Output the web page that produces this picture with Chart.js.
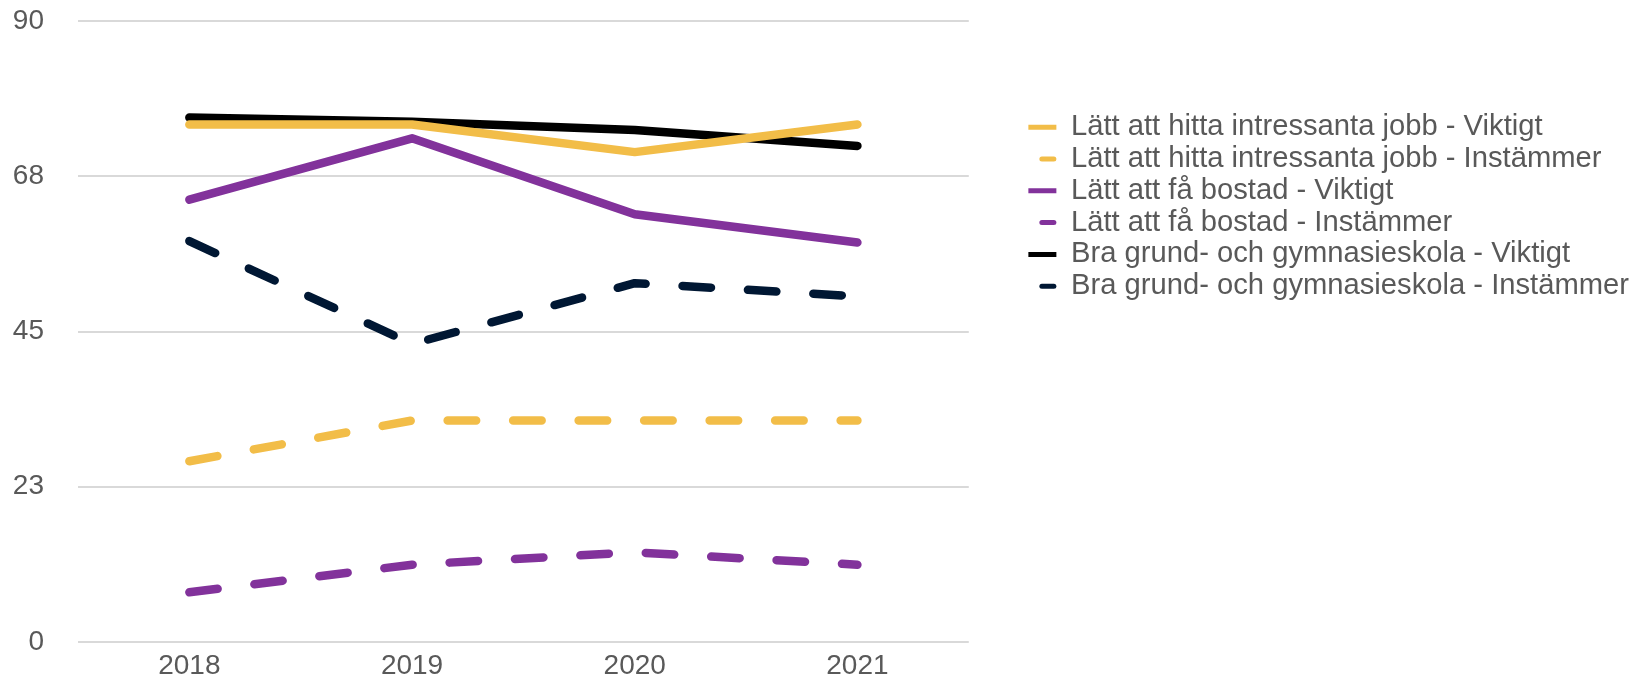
<!DOCTYPE html>
<html>
<head>
<meta charset="utf-8">
<script src="https://cdn.jsdelivr.net/npm/chart.js@4"></script>
<style>
  html, body { margin: 0; padding: 0; background: #fff; }
  #wrap { width: 1639px; height: 679px; position: relative; }
</style>
</head>
<body>
<div id="wrap"><canvas id="lineChart"></canvas></div>
<script>
// Data
const years = ['2018', '2019', '2020', '2021'];
const jobbViktigt = [75, 75, 71, 75];
const jobbInstammer = [26.2, 32.1, 32.1, 32.1];
const bostadViktigt = [64.1, 73, 62, 57.9];
const bostadInstammer = [7.2, 11.2, 13, 11.2];
const skolaViktigt = [76, 75.4, 74.2, 71.9];
const skolaInstammer = [58.1, 43.2, 52, 50.1];
const yTicks = [0, 22.5, 45, 67.5, 90];

const yellow = '#F2BD48';
const purple = '#82329B';
const black = '#000000';
const navy = '#001733';
const textColor = '#595959';
const fontFamily = 'Liberation Sans, Arial, sans-serif';
const dash = [28.5, 37];

function line(label, data, color, dashed) {
    return {
        label: label,
        data: data,
        borderColor: color,
        backgroundColor: color,
        borderWidth: 8.5,
        borderDash: dashed ? dash : [],
        borderCapStyle: 'round',
        borderJoinStyle: 'round',
        pointRadius: 0,
        pointHoverRadius: 0,
        tension: 0,
        fill: false
    };
}

const lineChart = new Chart(document.getElementById('lineChart'), {
    type: 'line',
    data: {
        labels: years,
        datasets: [
            line('Lätt att hitta intressanta jobb - Viktigt', jobbViktigt, yellow, false),
            line('Lätt att hitta intressanta jobb - Instämmer', jobbInstammer, yellow, true),
            line('Lätt att få bostad - Viktigt', bostadViktigt, purple, false),
            line('Lätt att få bostad - Instämmer', bostadInstammer, purple, true),
            line('Bra grund- och gymnasieskola - Viktigt', skolaViktigt, black, false),
            line('Bra grund- och gymnasieskola - Instämmer', skolaInstammer, navy, true)
        ]
    },
    options: {
        responsive: true,
        maintainAspectRatio: false,
        animation: false,
        events: [],
        layout: { padding: { left: 13, top: 0, right: 0, bottom: 0 } },
        scales: {
            x: {
                offset: true,
                grid: { display: false, drawTicks: false },
                border: { display: false },
                ticks: {
                    color: textColor,
                    padding: 7,
                    font: { family: fontFamily, size: 28 }
                },
                afterFit: (scale) => { scale.height = 37; }
            },
            y: {
                min: 0,
                max: 90,
                afterBuildTicks: (scale) => { scale.ticks = yTicks.map(v => ({ value: v })); },
                grid: { color: '#D9D9D9', lineWidth: 2, drawTicks: false },
                border: { display: false },
                ticks: {
                    color: textColor,
                    padding: 34,
                    font: { family: fontFamily, size: 28 },
                    callback: (v) => Math.round(v)
                },
                afterFit: (scale) => {
                    scale.width = 65;
                    scale.paddingTop = 21;
                    scale.paddingBottom = 17;
                }
            },
            gap: {
                type: 'linear',
                axis: 'y',
                position: 'right',
                grid: { display: false, drawTicks: false },
                border: { display: false },
                ticks: { display: false },
                afterFit: (scale) => { scale.width = 57; }
            }
        },
        plugins: {
            tooltip: { enabled: false },
            legend: {
                position: 'right',
                align: 'start',
                title: {
                    display: true,
                    text: ' ',
                    font: { size: 10 },
                    padding: { top: 98, bottom: 0 }
                },
                labels: {
                    color: textColor,
                    font: { family: fontFamily, size: 29.2 },
                    padding: 2.6,
                    usePointStyle: true,
                    pointStyle: 'line',
                    pointStyleWidth: 28,
                    generateLabels: (chart) => {
                        const items = Chart.defaults.plugins.legend.labels.generateLabels(chart);
                        return items.map((item, i) => {
                            const dashed = chart.data.datasets[i].borderDash.length > 0;
                            item.lineWidth = 5;
                            item.pointStyle = 'line';
                            if (dashed) {
                                item.lineCap = 'round';
                                item.lineDash = [12, 100];
                                item.lineDashOffset = -13.5;
                            } else {
                                item.lineCap = 'butt';
                                item.lineDash = [];
                            }
                            return item;
                        });
                    }
                }
            }
        }
    }
});

// the layout caps side boxes at a fraction of the width; let the legend take what it needs
const legendUpdate = lineChart.legend.update;
lineChart.legend.update = function (maxWidth, maxHeight, margins) {
    return legendUpdate.call(this, 700, maxHeight, margins);
};
lineChart.update();
</script>
</body>
</html>
